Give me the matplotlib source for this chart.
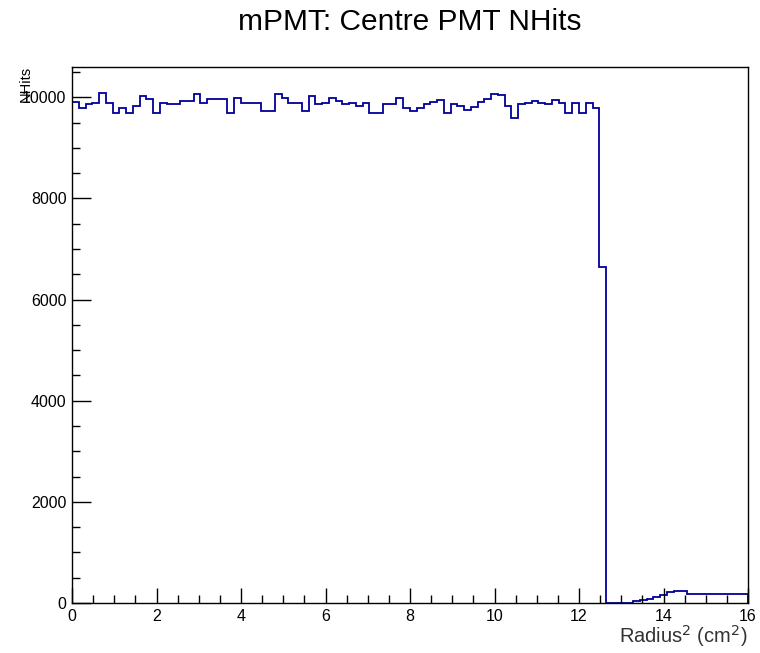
import numpy as np
import matplotlib
matplotlib.use("Agg")
import matplotlib.pyplot as plt
from matplotlib.ticker import MultipleLocator

plt.rcParams['font.family'] = ['Liberation Sans', 'DejaVu Sans']

# histogram: 100 bins from 0 to 16 (Radius^2, cm^2)
n_bins = 100
x_min, x_max = 0.0, 16.0

# bin contents
nhits = [
    9910, 9796, 9860, 9895, 10093, 9895, 9697, 9796, 9697, 9828,
    10030, 9960, 9697, 9895, 9860, 9860, 9927, 9927, 10060, 9895,
    9960, 9960, 9960, 9697, 9980, 9895, 9895, 9895, 9730, 9730,
    10060, 9994, 9895, 9895, 9730, 10026, 9860, 9895, 9994, 9927,
    9860, 9895, 9828, 9895, 9697, 9697, 9860, 9860, 9994, 9780,
    9730, 9796, 9860, 9900, 9940, 9697, 9860, 9828, 9750, 9815,
    9900, 9960, 10060, 10040, 9828, 9597, 9860, 9895, 9927, 9895,
    9860, 9940, 9895, 9697, 9880, 9697, 9895, 9796, 6650, 0,
    0, 0, 0, 30, 50, 80, 120, 160, 220, 230,
    230, 180, 180, 180, 180, 180, 180, 180, 180, 180,
]

edges = np.linspace(x_min, x_max, n_bins + 1)

fig = plt.figure(figsize=(7.6, 6.53), dpi=100)
ax = fig.add_axes([72 / 760, 1 - 603 / 653, 676 / 760, 536 / 653])

ax.stairs(nhits, edges, color='#000099', linewidth=1.3)

ax.set_xlim(x_min, x_max)
ax.set_ylim(0, 1.05 * max(nhits))

ax.xaxis.set_major_locator(MultipleLocator(2))
ax.xaxis.set_minor_locator(MultipleLocator(0.5))
ax.yaxis.set_major_locator(MultipleLocator(2000))
ax.yaxis.set_minor_locator(MultipleLocator(500))

ax.tick_params(axis='both', which='both', direction='in', top=False, right=False,
               labelsize=11.5, width=1.0)
ax.tick_params(axis='x', which='major', length=11, pad=4)
ax.tick_params(axis='x', which='minor', length=5.5)
ax.tick_params(axis='y', which='major', length=14, pad=4)
ax.tick_params(axis='y', which='minor', length=6)

for s in ax.spines.values():
    s.set_linewidth(1.0)

fig.text(410 / 760, 1 - 22 / 653, 'mPMT: Centre PMT NHits', ha='center', va='center',
         fontsize=21.5)
fig.text(26 / 760, 1 - 66 / 653, 'NHits', rotation=90, ha='center', va='top',
         fontsize=10.5)
fig.text(748 / 760, 1 - 636 / 653, 'Radius$^{2}$ (cm$^{2}$)', ha='right', va='center',
         fontsize=14.5, color='#333333')

fig.savefig('out.png', dpi=100, facecolor='white')
